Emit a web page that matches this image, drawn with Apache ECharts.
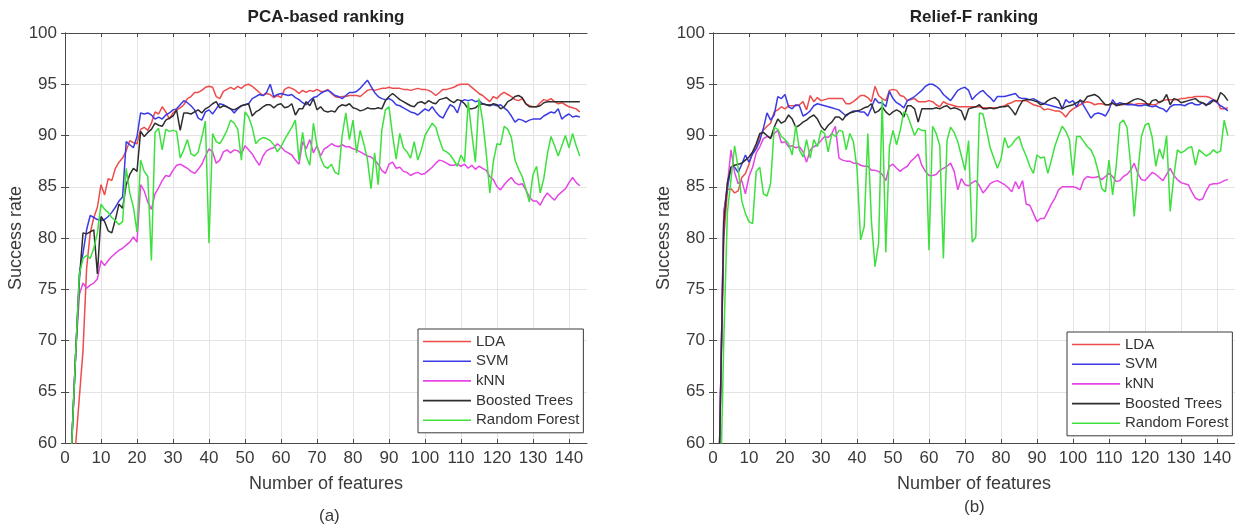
<!DOCTYPE html>
<html>
<head>
<meta charset="utf-8">
<script src="https://cdn.jsdelivr.net/npm/echarts@6/dist/echarts.min.js"></script>
<style>
  html, body { margin: 0; padding: 0; background: #fff; }
  #chart { width: 1235px; height: 526px; }
</style>
</head>
<body>
<div id="chart"></div>
<script>
// Feature-count axis (1..143 features) and tick values
const featureCounts = Array.from({ length: 143 }, (_, i) => i + 1);
const xTickValues = [0, 10, 20, 30, 40, 50, 60, 70, 80, 90, 100, 110, 120, 130, 140];
const yTickValues = [60, 65, 70, 75, 80, 85, 90, 95, 100];

const classifiers = ['LDA', 'SVM', 'kNN', 'Boosted Trees', 'Random Forest'];
const panelTitles = ['PCA-based ranking', 'Relief-F ranking'];
const panelTags = ['(a)', '(b)'];

// ---- PCA-based ranking: success rate (%) per number of features ----
const pcaLDA = [
  50, 55, 60, 64.5, 69, 77, 80.5, 82, 83, 85.2,
  84.2, 85.8, 85.6, 86.8, 87.4, 87.8, 88.5, 89.5, 89.3, 89.2,
  90.6, 90.8, 90.5, 91.2, 92.3, 92.1, 92.8, 92.3, 91.6, 92.2,
  92.5, 92.7, 93.0, 93.6, 93.8, 94.2, 94.2, 94.4, 94.7, 94.8,
  94.7, 93.8, 93.6, 94.3, 94.5, 94.7, 94.5, 94.8, 94.6, 94.9,
  95.0, 94.8, 94.5, 94.2, 93.9, 94.1, 94.0, 93.7, 93.9, 93.7,
  94.5, 94.7, 94.6, 94.4, 94.1, 94.4, 94.2, 94.4, 94.3, 94.5,
  94.3, 94.3, 94.5, 94.1, 93.8, 93.7, 93.8, 93.8, 93.9, 93.9,
  93.9, 93.8, 94.1, 94.4, 94.5, 94.4, 94.5, 94.6, 94.6, 94.7,
  94.6, 94.6, 94.6, 94.5, 94.5, 94.4, 94.5, 94.6, 94.5, 94.5,
  94.4, 94.2, 93.9, 94.2, 94.5, 94.5, 94.6, 94.7, 94.9, 95.0,
  95.0, 95.0, 94.7, 94.4, 94.1, 93.9, 93.6, 93.3, 93.8, 93.6,
  94.0, 94.2, 94.0, 93.8, 93.5, 93.4, 93.6, 93.1, 92.9, 92.8,
  92.8, 93.2, 93.5, 93.4, 93.6, 93.3, 93.1, 93.2, 93.0, 92.8,
  92.7, 92.6, 92.3
];
const pcaSVM = [
  52, 61, 69, 76.5, 78.5, 80.8, 82.2, 82.0, 81.8, 81.7,
  81.8, 82.1, 82.5, 83.0, 83.6, 84.0, 89.4, 89.1, 88.8, 89.9,
  92.2, 92.1, 92.2, 92.0, 91.6, 91.8, 91.6, 92.0, 92.2, 92.5,
  92.6, 93.0, 93.4, 93.2, 92.9, 92.5, 91.7, 91.5, 92.3, 92.5,
  92.1, 92.6, 93.1, 93.0, 92.8, 92.6, 92.2, 92.6, 92.9, 93.0,
  93.1, 93.6, 93.8, 94.0, 93.9, 94.2, 95.0, 93.8, 94.0, 94.1,
  94.0, 93.9, 94.0, 93.7, 93.5, 93.2, 93.0, 93.4, 93.7, 93.8,
  94.1, 94.3, 94.4, 94.2, 93.9, 93.8, 93.6, 93.9, 94.2, 94.2,
  94.3, 94.6, 95.0, 95.4, 94.8, 94.2, 93.8, 93.6, 93.5, 93.6,
  93.4, 93.0, 92.9, 92.7, 92.5, 92.3, 92.2, 92.0, 92.3, 92.6,
  92.4, 92.8, 92.3, 91.9, 91.7, 92.4, 93.0, 92.8, 92.2, 93.3,
  93.5, 93.4, 93.5, 93.3, 93.4, 93.1, 93.0, 93.0, 93.0, 92.9,
  93.0, 92.7, 92.4, 91.9, 91.3, 91.6, 91.5, 91.3, 91.5, 91.6,
  91.6, 91.6, 91.9, 92.1, 92.3, 92.2, 92.6, 91.6, 91.9, 92.1,
  91.8, 91.9, 91.8
];
const pcaKNN = [
  52, 61, 69, 74.5, 75.6, 75.1, 75.4, 75.6, 76.0, 77.8,
  77.3, 77.8, 78.2, 78.5, 78.8, 79.0, 79.3, 79.6, 80.1, 79.6,
  85.2, 84.6, 83.5, 82.8, 84.3, 84.9, 85.6, 86.1, 86.0, 86.6,
  87.1, 87.2, 87.0, 86.8, 86.5, 86.3, 86.7, 87.2, 88.0, 88.7,
  88.4, 87.3, 87.6, 88.4, 88.6, 88.3, 88.6, 88.5, 88.2, 89.0,
  88.6, 88.2, 87.6, 87.1, 88.0, 88.5, 88.7, 88.8, 89.2, 88.9,
  88.5, 88.3, 88.1, 87.6, 87.2, 89.4, 88.7, 89.6, 88.3, 89.0,
  88.0, 88.7, 88.9, 89.2, 89.0, 88.9, 89.1, 88.9, 88.9, 88.7,
  88.6, 88.4, 88.2, 88.0, 87.9, 87.6, 87.2, 86.6, 86.3, 87.2,
  87.4, 86.8, 86.9, 86.5, 86.4, 86.1, 86.3, 86.4, 86.2, 86.3,
  86.6, 86.9, 87.3, 87.6, 87.5, 87.3, 87.1, 87.1, 87.2, 87.0,
  87.2, 86.8, 87.1, 86.7, 87.0, 86.8, 86.6, 86.0, 85.7, 85.0,
  84.7, 85.2, 85.6, 85.9, 85.4, 85.2, 85.3, 84.7, 84.0, 83.6,
  83.6, 83.2, 83.9, 84.4, 84.0, 83.7, 84.2, 84.5, 84.8, 85.4,
  85.9, 85.4, 85.1
];
const pcaBoosted = [
  52, 61, 69, 76, 80.5, 80.4, 80.6, 80.8, 76.5, 82.1,
  81.6, 80.7, 80.5, 81.8, 83.3, 82.9, 85.2, 86.2, 86.8, 86.5,
  90.4, 89.9, 90.3, 90.6, 91.2, 91.0, 90.9, 91.5, 91.7, 91.9,
  92.5, 90.5, 92.2, 92.2, 92.1, 92.3, 92.5, 92.2, 92.6, 92.8,
  93.1, 93.3, 92.7, 92.9, 92.8, 92.6, 92.5, 92.7, 92.9, 93.0,
  93.1, 91.9, 92.3, 92.5, 92.8, 93.0, 93.0, 92.7, 93.0, 93.1,
  92.7, 92.8, 93.1, 92.0, 92.6, 92.6, 93.3, 92.9, 93.6, 92.5,
  92.8, 92.4, 92.3, 92.4, 92.3, 92.8, 93.0, 92.9, 93.1, 92.7,
  92.6, 92.4, 92.5, 92.7, 92.6, 92.6, 92.7, 92.6, 93.4, 93.8,
  94.1, 93.8, 93.5, 93.3, 93.1, 92.9, 92.8, 93.2, 93.3, 93.1,
  93.4, 93.2, 93.1, 93.5, 93.6, 93.7, 93.4, 93.2, 93.5, 93.4,
  93.1, 92.6, 92.6, 92.7, 93.0, 93.1, 93.0, 92.9, 93.1, 93.0,
  92.6, 92.8, 93.3, 93.5, 93.8, 93.9, 93.7, 93.1, 92.8, 92.8,
  92.8, 92.9, 93.2, 93.3, 93.3, 93.3, 93.3, 93.3, 93.3, 93.3,
  93.3, 93.3, 93.3
];
const pcaForest = [
  52, 61, 69, 76.5, 78.0, 78.3, 78.0, 79.0, 80.5, 83.3,
  82.8, 82.5, 82.0, 81.7, 81.3, 81.6, 86.8, 84.4, 83.0, 80.6,
  87.6, 86.5, 86.0, 77.8, 90.3, 90.7, 88.6, 90.6, 90.4, 90.5,
  90.4, 87.8, 88.6, 89.6, 88.2, 88.0, 88.4, 89.8, 91.4, 79.5,
  90.2, 89.4, 89.2, 89.8, 90.5, 91.5, 91.2, 90.6, 87.6, 92.3,
  91.8, 90.8, 89.2, 89.6, 89.8, 89.7, 89.5, 89.1, 88.4, 88.9,
  89.6, 90.2, 90.8, 91.5, 87.6, 90.3, 88.0, 87.1, 91.2, 89.0,
  87.8, 87.0, 86.8, 87.2, 86.4, 86.2, 90.0, 92.2, 89.6, 91.5,
  88.3, 90.5, 89.2, 87.7, 84.8, 88.3, 85.2, 90.5, 92.5, 92.8,
  90.0, 87.7, 90.2, 88.8, 88.4, 87.8, 89.4, 87.6, 88.6, 90.0,
  90.6, 91.2, 90.8, 89.6, 88.6, 88.4, 88.1, 87.6, 87.0, 88.1,
  87.4, 93.3, 90.2, 87.4, 93.6, 91.5, 88.3, 84.4, 87.5, 89.2,
  89.1, 90.9, 90.6, 89.8, 87.6, 86.7, 86.0, 84.8, 83.5, 86.2,
  87.0, 84.4, 85.8, 88.2, 89.9, 89.0, 88.0, 89.0, 90.0, 88.8,
  90.2, 89.0, 88.0
];

// ---- Relief-F ranking: success rate (%) per number of features ----
const reliefLDA = [
  45, 63, 80, 84.7, 84.8, 84.4, 84.6, 85.9, 86.3, 87.2,
  88.4, 88.8, 90.0, 90.5, 90.9, 91.2, 92.3, 92.5, 92.8, 92.6,
  92.9, 92.9, 92.9, 93.0, 93.3, 92.5, 93.9, 93.3, 93.7, 93.4,
  93.5, 93.6, 93.6, 93.6, 93.6, 93.6, 93.1, 93.1, 93.3, 93.6,
  93.9, 93.9, 93.7, 93.3, 94.8, 93.9, 93.6, 93.4, 94.4, 94.5,
  94.4, 93.9, 93.8, 93.4, 93.5, 93.6, 93.3, 93.3, 93.3, 93.4,
  93.3, 93.0, 92.8, 93.3, 93.1, 93.0, 92.9, 92.8, 92.8, 92.8,
  92.8, 92.8, 92.8, 92.8, 92.7, 92.7, 92.7, 92.7, 92.7, 92.8,
  92.9, 93.1, 93.2, 93.4, 93.4, 93.4, 93.4, 93.2, 93.0, 92.9,
  92.8, 92.5, 92.6, 92.5, 92.4, 92.4, 92.2, 91.8, 92.3, 92.6,
  92.8, 93.0, 93.2, 93.3, 93.2, 93.0, 93.1, 93.1, 93.0, 93.0,
  93.1, 93.1, 93.0, 93.0, 93.1, 93.1, 93.0, 93.1, 93.1, 93.1,
  93.1, 93.0, 93.0, 93.3, 93.4, 93.5, 93.5, 93.5, 93.5, 93.6,
  93.6, 93.7, 93.7, 93.8, 93.8, 93.8, 93.8, 93.7, 93.5, 93.4,
  92.6, 92.6, 92.7
];
const reliefSVM = [
  45, 63, 82.5, 84.8, 86.9, 86.9, 86.4, 87.2, 88.1, 87.4,
  88.2, 88.7, 89.5, 90.7, 92.2, 91.5, 92.0, 93.8, 93.6, 94.0,
  92.8, 92.6, 93.0, 92.9, 91.9, 92.1, 92.4, 92.9, 93.1, 93.0,
  92.9, 92.8, 92.7, 92.6, 92.5, 92.2, 91.9, 92.2, 92.4, 92.4,
  92.3, 92.3, 91.9, 92.7, 93.6, 93.2, 93.2, 92.8, 94.3, 93.6,
  93.2, 93.0, 92.7, 93.4, 93.6, 93.8, 94.1, 94.4, 94.8, 95.0,
  95.0, 94.8, 94.5, 94.0, 93.7, 93.4, 93.9, 94.4, 94.6, 94.7,
  94.4, 93.5, 93.9, 94.2, 94.4, 94.0, 93.7, 93.3, 93.8, 93.8,
  93.8, 93.9, 94.0, 94.1, 93.7, 93.6, 93.6, 93.5, 93.6, 93.4,
  93.2, 93.1, 93.0, 92.9, 92.8, 92.7, 92.6, 93.5, 93.2, 93.4,
  92.8, 93.5, 92.9, 92.3, 91.7, 92.1, 92.2, 92.1, 91.9, 92.5,
  93.5, 93.0, 93.2, 93.1, 93.0, 93.0, 93.0, 92.9, 92.9, 93.0,
  92.9, 92.8, 92.9, 92.7, 92.6, 92.3, 92.8, 93.0, 93.0, 93.0,
  92.9, 93.1, 93.2, 93.0, 93.0, 93.2, 92.9, 93.3, 93.5, 93.2,
  92.9, 92.7, 92.4
];
const reliefKNN = [
  45, 63, 82.4, 85.2, 88.6, 86.4, 85.3, 85.6, 84.3, 86.0,
  86.9, 88.3, 88.9, 89.7, 89.9, 89.8, 90.2, 90.5, 89.3, 89.4,
  88.9, 89.0, 88.8, 88.9, 88.4, 87.4, 88.6, 88.9, 89.1, 89.5,
  89.9, 89.8, 90.2, 90.9, 87.8, 87.6, 87.5, 87.5, 87.3, 87.3,
  87.1, 87.0, 87.0, 86.6, 86.6, 86.5, 86.2, 85.6, 87.0, 87.2,
  86.8, 86.5, 86.8, 87.0, 87.5, 87.8, 88.2, 87.1, 86.5, 86.1,
  86.1, 86.2, 86.6, 86.8, 87.0, 87.3, 86.5, 84.7, 85.8, 85.2,
  85.1, 85.4, 85.6, 85.1, 84.4, 84.8, 85.3, 85.5, 85.6, 85.4,
  85.2, 84.9, 84.5, 85.5, 84.8, 85.6, 83.3, 83.2, 82.4, 81.6,
  81.9, 81.9, 82.6, 83.3, 83.9, 84.7, 85.0, 85.0, 85.0, 85.0,
  84.9, 84.7, 85.7, 86.0, 85.9, 85.9, 86.0, 85.7, 86.0, 86.3,
  86.0, 85.5, 85.6, 86.0, 86.2, 86.6, 87.3, 86.3, 85.7, 85.6,
  86.0, 86.4, 86.2, 85.9, 85.6, 86.2, 86.8, 86.1, 85.7, 85.4,
  85.3, 85.2, 84.5, 83.9, 83.7, 83.8, 84.6, 85.2, 85.3, 85.3,
  85.4, 85.6, 85.7
];
const reliefBoosted = [
  45, 63, 81.5, 85.4, 86.9, 87.1, 87.2, 87.3, 87.6, 87.9,
  88.4, 89.2, 90.2, 90.3, 90.0, 89.7, 90.8, 91.6, 91.2, 91.4,
  92.0, 91.6, 90.8, 91.0, 91.3, 91.5, 91.8, 92.0, 91.6, 90.9,
  90.5, 91.0, 91.3, 91.8, 91.8, 91.5, 92.0, 92.2, 92.3, 92.4,
  92.5, 92.7, 92.8, 93.1, 92.2, 92.4, 92.8, 92.3, 92.0, 92.3,
  92.5, 92.3, 91.8, 92.9, 92.9, 92.6, 91.3, 92.6, 92.6, 92.6,
  92.6, 92.7, 92.6, 92.8, 92.9, 92.6, 92.7, 92.6, 92.4, 91.5,
  92.6, 92.7, 92.8, 93.0, 92.6, 92.6, 92.7, 92.6, 92.7, 92.8,
  92.8, 92.9, 92.5, 92.0, 92.8, 93.4, 93.5, 93.5, 93.4, 93.3,
  93.0, 93.1, 93.4, 93.6, 93.7, 93.4, 92.6, 92.8, 92.9, 93.0,
  93.2, 93.4, 93.3, 93.8, 93.9, 94.0, 93.8, 93.4, 93.0, 93.0,
  93.2, 92.9, 93.0, 93.1, 93.1, 93.3, 93.5, 93.6, 93.5, 93.3,
  92.9, 93.4, 93.5, 93.2, 93.4, 94.0, 93.0, 93.6, 93.5, 93.2,
  93.3, 93.4, 93.5, 93.6, 93.3, 93.2, 93.0, 93.1, 93.4, 93.3,
  94.2, 93.9, 93.4
];
const reliefForest = [
  40, 54, 70, 82.5, 85.7, 89.0, 86.8, 83.6, 82.4, 81.6,
  81.4, 86.5, 86.9, 84.3, 84.1, 85.3, 90.8, 90.6, 89.9, 89.6,
  89.2, 88.1, 91.0, 88.6, 87.9, 89.6, 87.8, 89.6, 88.9, 90.5,
  90.2, 88.4, 90.2, 89.9, 90.5, 90.4, 88.6, 90.2, 89.4, 86.8,
  79.8, 81.1, 90.2, 81.7, 77.2, 79.5, 93.5, 78.6, 88.9, 90.5,
  89.1, 90.5, 92.3, 92.0, 91.0, 90.0, 90.7, 90.5, 90.5, 78.8,
  90.9, 90.2, 89.0, 78.0, 89.5, 90.8, 90.3, 89.4, 88.0, 86.6,
  89.5, 79.6, 80.1, 92.2, 92.1, 90.5, 88.8, 87.8, 86.8, 87.7,
  89.8, 88.8, 89.1, 89.6, 89.9, 88.8, 88.0, 87.0, 86.3, 88.1,
  87.8, 87.9, 86.3, 87.6, 89.0, 90.0, 90.9, 90.4, 89.6, 86.1,
  89.9, 89.9, 89.4, 88.9, 88.6, 87.8, 86.5, 84.8, 84.5, 87.6,
  84.2, 87.0, 91.2, 91.5, 90.8, 87.2, 82.1, 86.3, 89.9, 91.0,
  91.2, 89.8, 87.0, 88.7, 87.7, 90.0, 82.6, 86.0, 88.6, 88.3,
  88.5, 88.8, 88.9, 87.1, 88.6, 88.3, 88.0, 88.2, 88.6, 88.3,
  88.5, 91.5, 90.0
];

const panelSeries = [
  [pcaLDA, pcaSVM, pcaKNN, pcaBoosted, pcaForest],
  [reliefLDA, reliefSVM, reliefKNN, reliefBoosted, reliefForest]
];
const lineColors = ['#ee4b4b', '#3b3be6', '#e645e6', '#2e2e2e', '#3ee03e'];

const FONT = '"Liberation Sans", Arial, Helvetica, sans-serif';
const AXIS_COLOR = '#4a4a4a';
const TEXT_COLOR = '#3a3a3a';
const GRID_COLOR = '#e4e4e4';

// Panel frames (pixel layout of each axes box)
const panels = [
  { left: 65, top: 33, width: 522, height: 410, legendLeft: 418, legendTop: 329, tagLeft: 319, tagTop: 508 },
  { left: 713, top: 33, width: 522, height: 410, legendLeft: 1067, legendTop: 332, tagLeft: 964, tagTop: 499 }
];

const grids = [], xAxes = [], yAxes = [], series = [], titles = [], legends = [], graphics = [];

panels.forEach((p, pi) => {
  grids.push({ left: p.left, top: p.top, width: p.width, height: p.height, containLabel: false });

  const tickStyle = { show: true, inside: true, length: 4, lineStyle: { color: AXIS_COLOR, width: 1 } };
  const lineStyle = { show: true, lineStyle: { color: AXIS_COLOR, width: 1 } };

  // bottom x axis with labels and vertical grid lines
  xAxes.push({
    type: 'value', gridIndex: pi, position: 'bottom', min: 0, max: 145, interval: 10,
    name: 'Number of features', nameLocation: 'middle', nameGap: 32,
    nameTextStyle: { fontSize: 18, color: TEXT_COLOR, fontFamily: FONT },
    axisLine: lineStyle,
    axisTick: Object.assign({}, tickStyle, { customValues: xTickValues }),
    axisLabel: { customValues: xTickValues, fontSize: 17, color: TEXT_COLOR, fontFamily: FONT, margin: 7 },
    splitLine: { show: true, lineStyle: { color: GRID_COLOR, width: 1 } }
  });
  // top x axis: box edge with inward ticks
  xAxes.push({
    type: 'value', gridIndex: pi, position: 'top', min: 0, max: 145, interval: 10,
    axisLine: lineStyle,
    axisTick: Object.assign({}, tickStyle, { customValues: xTickValues }),
    axisLabel: { show: false },
    splitLine: { show: false }
  });
  // left y axis with labels and horizontal grid lines
  yAxes.push({
    type: 'value', gridIndex: pi, position: 'left', min: 60, max: 100, interval: 5,
    name: 'Success rate', nameLocation: 'middle', nameGap: 33, nameRotate: 90,
    nameTextStyle: { fontSize: 18, color: TEXT_COLOR, fontFamily: FONT },
    axisLine: lineStyle,
    axisTick: Object.assign({}, tickStyle, { customValues: yTickValues }),
    axisLabel: { customValues: yTickValues, fontSize: 17, color: TEXT_COLOR, fontFamily: FONT, margin: 8 },
    splitLine: { show: true, lineStyle: { color: GRID_COLOR, width: 1 } }
  });
  // right y axis: box edge with inward ticks
  yAxes.push({
    type: 'value', gridIndex: pi, position: 'right', min: 60, max: 100, interval: 5,
    axisLine: lineStyle,
    axisTick: Object.assign({}, tickStyle, { customValues: yTickValues }),
    axisLabel: { show: false },
    splitLine: { show: false }
  });

  classifiers.forEach((name, ci) => {
    const values = panelSeries[pi][ci];
    series.push({
      type: 'line', name: name,
      xAxisIndex: pi * 2, yAxisIndex: pi * 2,
      data: featureCounts.map((n, k) => [n, values[k]]),
      showSymbol: false, symbol: 'none', clip: true,
      lineStyle: { color: lineColors[ci], width: 1.5 },
      itemStyle: { color: lineColors[ci] },
      emphasis: { disabled: true },
      z: 2 + ci
    });
  });

  titles.push({
    text: panelTitles[pi], left: p.left + p.width / 2, top: 9, textAlign: 'center', padding: 0,
    textStyle: { fontSize: 17, fontWeight: 'bold', color: '#222', fontFamily: FONT }
  });

  legends.push({
    left: p.legendLeft, top: p.legendTop, orient: 'vertical',
    data: classifiers, icon: 'rect', itemWidth: 48, itemHeight: 1.6,
    itemGap: 4.7, itemTextGap: 4, padding: [5, 4, 5, 5],
    borderColor: '#3a3a3a', borderWidth: 1, borderRadius: 0, backgroundColor: '#fff',
    selectedMode: false, inactiveColor: '#ccc',
    textStyle: { fontSize: 15, lineHeight: 15, color: '#333', fontFamily: FONT },
    z: 10
  });

  graphics.push({
    type: 'text', left: p.tagLeft, top: p.tagTop,
    style: { text: panelTags[pi], fontSize: 17, fill: TEXT_COLOR, fontFamily: FONT }
  });
});

const chart = echarts.init(document.getElementById('chart'), null, { renderer: 'canvas' });
chart.setOption({
  animation: false,
  backgroundColor: '#fff',
  title: titles,
  legend: legends,
  grid: grids,
  xAxis: xAxes,
  yAxis: yAxes,
  series: series,
  graphic: graphics
});
</script>
</body>
</html>
